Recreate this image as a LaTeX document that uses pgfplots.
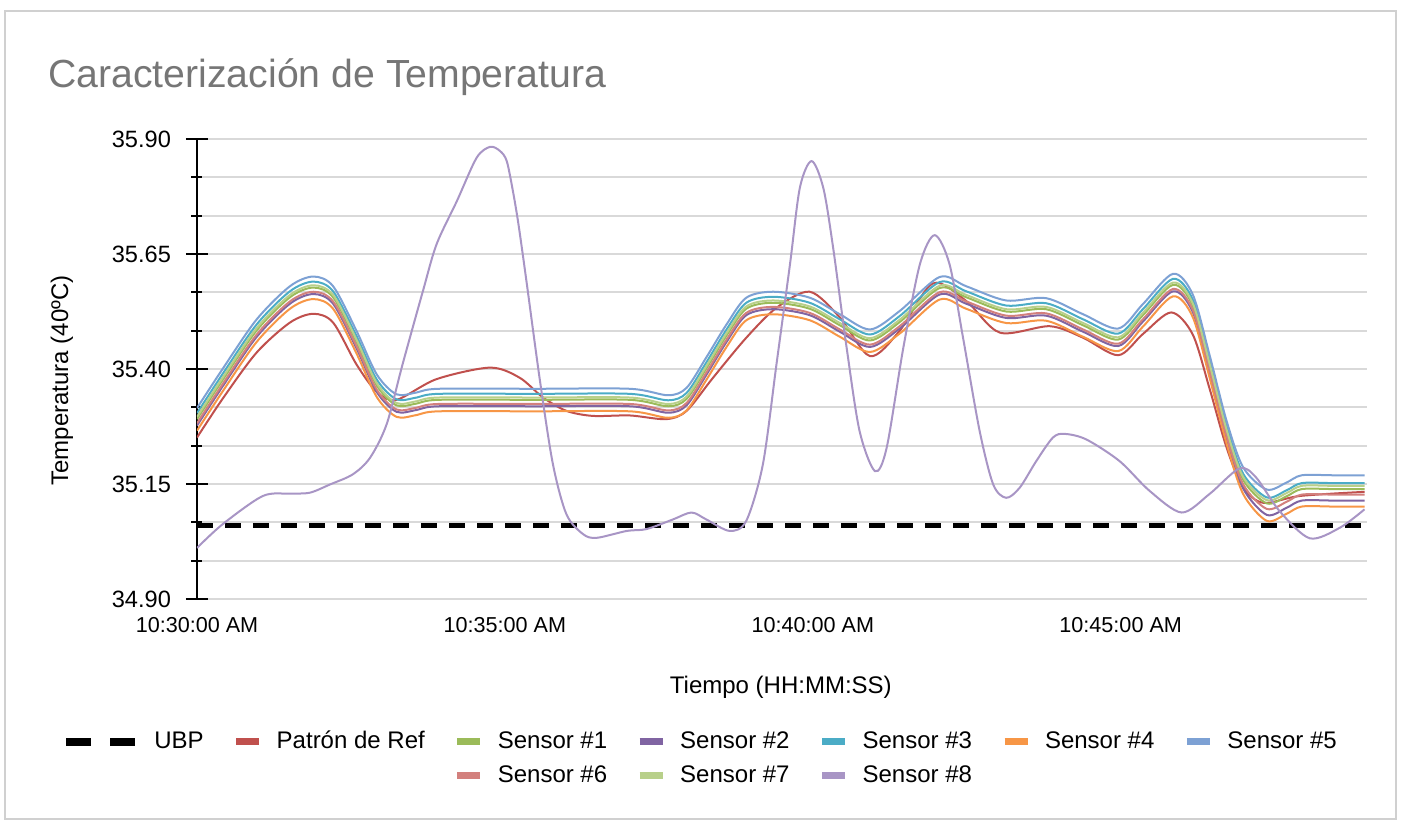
\documentclass[border=0pt]{standalone}
\usepackage{fontspec}
\setmainfont{Liberation Sans}
\usepackage{pgfplots}
\pgfplotsset{compat=1.18}
\usepackage{pgfplotstable}

\definecolor{cRef}{HTML}{C0504D}
\definecolor{cS1}{HTML}{9BBB59}
\definecolor{cS2}{HTML}{8064A2}
\definecolor{cS3}{HTML}{4BACC6}
\definecolor{cS4}{HTML}{F79646}
\definecolor{cS5}{HTML}{7DA1D4}
\definecolor{cS6}{HTML}{D3807D}
\definecolor{cS7}{HTML}{B8D08A}
\definecolor{cS8}{HTML}{A895C5}
\definecolor{gridc}{HTML}{D9D9D9}
\definecolor{titlec}{HTML}{767676}
\definecolor{framec}{HTML}{D0D0D0}

\pgfplotstableread{
t S5 S3 S7 S1 S6 S2 S4
0.00 35.315 35.304 35.296 35.291 35.282 35.277 35.266
0.43 35.403 35.392 35.384 35.379 35.370 35.365 35.354
0.97 35.508 35.497 35.489 35.484 35.475 35.470 35.459
1.51 35.580 35.569 35.561 35.556 35.547 35.542 35.531
1.89 35.601 35.590 35.582 35.577 35.568 35.563 35.552
2.21 35.580 35.569 35.561 35.556 35.547 35.542 35.531
2.59 35.483 35.472 35.464 35.459 35.450 35.445 35.434
2.92 35.388 35.377 35.369 35.364 35.355 35.350 35.339
3.24 35.345 35.334 35.326 35.321 35.312 35.307 35.296
3.57 35.349 35.338 35.330 35.325 35.316 35.311 35.300
3.92 35.357 35.346 35.338 35.333 35.324 35.319 35.308
5.49 35.357 35.346 35.338 35.333 35.324 35.319 35.308
7.03 35.357 35.346 35.338 35.333 35.324 35.319 35.308
7.65 35.343 35.332 35.324 35.319 35.310 35.305 35.294
7.95 35.359 35.348 35.340 35.335 35.326 35.321 35.310
8.27 35.425 35.414 35.406 35.401 35.392 35.387 35.376
8.60 35.497 35.486 35.478 35.473 35.464 35.459 35.448
8.92 35.555 35.544 35.536 35.531 35.522 35.517 35.506
9.36 35.568 35.557 35.549 35.544 35.535 35.530 35.519
9.95 35.555 35.544 35.536 35.531 35.522 35.517 35.506
10.44 35.519 35.508 35.500 35.495 35.486 35.481 35.470
10.93 35.486 35.475 35.467 35.462 35.453 35.448 35.437
11.41 35.526 35.515 35.507 35.502 35.493 35.488 35.477
12.06 35.600 35.589 35.581 35.576 35.567 35.562 35.551
12.49 35.580 35.569 35.561 35.556 35.547 35.542 35.531
13.14 35.549 35.538 35.530 35.525 35.516 35.511 35.500
13.79 35.554 35.543 35.535 35.530 35.521 35.516 35.505
14.39 35.519 35.508 35.500 35.495 35.486 35.481 35.470
14.96 35.488 35.477 35.469 35.464 35.455 35.450 35.439
15.36 35.541 35.530 35.522 35.517 35.508 35.503 35.492
15.85 35.607 35.596 35.588 35.583 35.574 35.569 35.558
16.17 35.562 35.551 35.543 35.538 35.529 35.524 35.513
16.44 35.432 35.421 35.413 35.408 35.399 35.394 35.383
16.72 35.287 35.276 35.268 35.263 35.254 35.249 35.238
16.99 35.186 35.172 35.165 35.159 35.149 35.140 35.128
17.37 35.138 35.121 35.115 35.108 35.096 35.083 35.070
17.69 35.153 35.136 35.130 35.123 35.111 35.098 35.085
17.94 35.169 35.152 35.146 35.139 35.127 35.114 35.101
18.45 35.169 35.152 35.146 35.139 35.127 35.114 35.101
18.96 35.169 35.152 35.146 35.139 35.127 35.114 35.101
}\grp

\pgfplotstableread{
t v
0.00 35.251
0.43 35.338
0.97 35.436
1.51 35.501
1.89 35.520
2.21 35.501
2.59 35.410
2.92 35.350
3.24 35.333
3.89 35.378
4.76 35.403
5.24 35.381
5.62 35.338
6.00 35.309
6.43 35.298
7.03 35.299
7.62 35.291
7.95 35.309
8.38 35.381
8.92 35.468
9.41 35.533
9.95 35.568
10.44 35.512
10.93 35.428
11.41 35.483
11.95 35.586
12.49 35.548
13.04 35.479
13.85 35.493
14.39 35.468
14.96 35.430
15.36 35.476
15.82 35.523
16.17 35.475
16.44 35.359
16.72 35.229
16.99 35.142
17.32 35.109
17.91 35.124
18.96 35.133
}\refdata

\pgfplotstableread{
t v
0.00 35.011
0.42 35.063
1.07 35.124
1.51 35.129
1.83 35.131
2.16 35.149
2.53 35.171
2.81 35.207
3.08 35.280
3.34 35.411
3.67 35.570
3.89 35.671
4.22 35.765
4.54 35.859
4.76 35.883
4.92 35.874
5.03 35.852
5.13 35.787
5.22 35.715
5.35 35.591
5.57 35.374
5.78 35.193
6.00 35.084
6.27 35.041
6.49 35.033
6.98 35.048
7.30 35.052
7.73 35.073
8.03 35.088
8.27 35.073
8.65 35.048
8.92 35.070
9.19 35.193
9.41 35.410
9.63 35.628
9.79 35.794
9.98 35.852
10.17 35.794
10.33 35.664
10.55 35.446
10.76 35.265
11.01 35.178
11.20 35.229
11.47 35.446
11.74 35.628
11.98 35.691
12.22 35.628
12.44 35.468
12.71 35.265
12.93 35.149
13.14 35.120
13.36 35.142
13.63 35.200
13.90 35.251
14.09 35.259
14.44 35.247
14.98 35.200
15.47 35.135
15.99 35.088
16.44 35.128
16.93 35.184
17.20 35.164
17.58 35.091
18.07 35.032
18.56 35.055
18.96 35.095
}\seight

\pgfplotsset{
  sens/.style={color=#1, line width=1pt, smooth,
    legend image code/.code={\draw[color=#1, line width=3.5pt] (0pt,0pt) -- (11.5pt,0pt);}},
}

\begin{document}
\begin{tikzpicture}
\useasboundingbox (-98.5pt,-113.5pt) rectangle (605pt,299.5pt);
\draw[color=framec, line width=0.6pt] (-96pt,294pt) rectangle (599.5pt,-110pt);
\node[anchor=base west, inner sep=0pt, text=titlec, font=\fontsize{19.6}{22}\selectfont] at (-74.5pt,255.5pt) {Caracterización de Temperatura};
\begin{axis}[
  at={(0pt,0pt)}, anchor=south west,
  scale only axis, width=585pt, height=230pt,
  xmin=0, xmax=19, ymin=34.9, ymax=35.9,
  axis y line*=left, axis x line*=bottom,
  x axis line style={draw=none},
  y axis line style={black, line width=1.2pt, -},
  ytick={34.90,35.15,35.40,35.65,35.90},
  minor y tick num=2,
  ymajorgrids, yminorgrids,
  major grid style={color=gridc, line width=1pt},
  minor grid style={color=gridc, line width=1pt},
  tick align=center,
  major tick length=11pt, minor tick length=5.5pt,
  ytick style={black, line width=1pt},
  minor y tick style={black, line width=1pt},
  xtick={0,5,10,15},
  xticklabels={10:30:00 AM, 10:35:00 AM, 10:40:00 AM, 10:45:00 AM},
  xtick style={draw=none},
  /pgf/number format/assume math mode=true,
  yticklabel={\pgfmathprintnumber[fixed,fixed zerofill,precision=2]{\tick}},
  yticklabel style={font=\fontsize{11.8}{13}\selectfont, xshift=-4pt},
  xticklabel style={font=\fontsize{10.8}{12}\selectfont},
  ylabel={Temperatura (40ºC)},
  ylabel style={at={(axis description cs:-0.1154,0.475)}, anchor=center, font=\fontsize{12}{14}\selectfont},
  xlabel={Tiempo (HH:MM:SS)},
  xlabel style={at={(axis description cs:0.499,-0.191)}, anchor=center, font=\fontsize{12}{14}\selectfont},
  legend columns=7,
  legend cell align=left,
  legend style={draw=none, fill=none, at={(axis description cs:-0.1154,-0.278)}, anchor=north west,
    font=\fontsize{12}{14}\selectfont, inner sep=0pt, column sep=5pt, row sep=3pt,
    /tikz/every even column/.append style={column sep=12.5pt}},
  clip=true,
]
\addplot[black, line width=2.5pt, dash pattern=on 8pt off 6pt,
  legend image code/.code={\draw[black, line width=4pt, dash pattern=on 12.5pt off 9.5pt] (0pt,0pt) -- (35pt,0pt);}]
  coordinates {(0,35.06) (19,35.06)};
\addlegendentry{UBP}
\addplot[sens=cRef] table[x=t,y=v] {\refdata};
\addlegendentry{Patrón de Ref}
\addplot[sens=cS1] table[x=t,y=S1] {\grp};
\addlegendentry{Sensor \#1}
\addplot[sens=cS2] table[x=t,y=S2] {\grp};
\addlegendentry{Sensor \#2}
\addplot[sens=cS3] table[x=t,y=S3] {\grp};
\addlegendentry{Sensor \#3}
\addplot[sens=cS4] table[x=t,y=S4] {\grp};
\addlegendentry{Sensor \#4}
\addplot[sens=cS5] table[x=t,y=S5] {\grp};
\addlegendentry{Sensor \#5}
\addlegendimage{empty legend}
\addlegendentry{}
\addlegendimage{empty legend}
\addlegendentry{}
\addplot[sens=cS6] table[x=t,y=S6] {\grp};
\addlegendentry{Sensor \#6}
\addplot[sens=cS7] table[x=t,y=S7] {\grp};
\addlegendentry{Sensor \#7}
\addplot[sens=cS8] table[x=t,y=v] {\seight};
\addlegendentry{Sensor \#8}
\end{axis}
\end{tikzpicture}
\end{document}
